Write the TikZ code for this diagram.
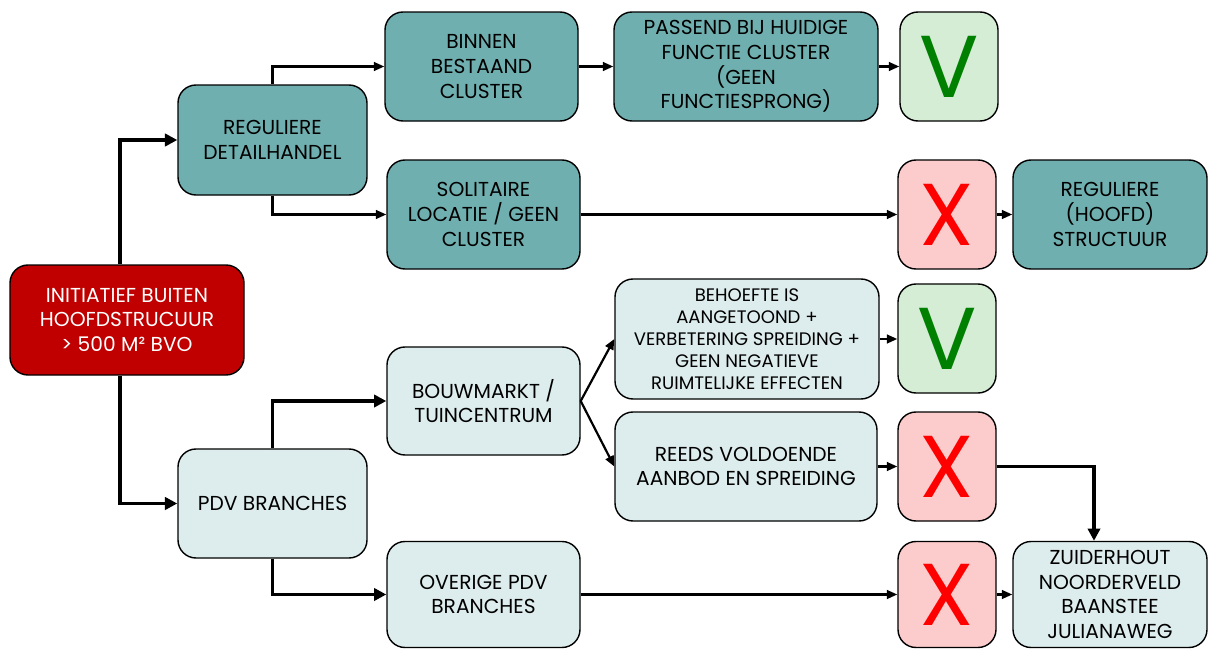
\documentclass[tikz,border=0pt]{standalone}
\usepackage{fontspec}
\setmainfont{Poppins}
\usetikzlibrary{arrows.meta}

\definecolor{tealbox}{HTML}{70AFAF}
\definecolor{lightbox}{HTML}{DDECEC}
\definecolor{redbox}{HTML}{C00000}
\definecolor{okbox}{HTML}{D5EDD5}
\definecolor{nobox}{HTML}{FCCCCC}
\definecolor{okmark}{HTML}{008000}

\tikzset{
	box/.style={draw=black, line width=0.8pt, rounded corners=0.36cm, align=center,
		inner sep=0pt, font=\fontsize{11.5}{14}\selectfont},
	wh/.style 2 args={minimum width=#1*0.02cm, minimum height=#2*0.02cm},
	teal/.style={box, fill=tealbox},
	light/.style={box, fill=lightbox},
	okmarkbox/.style={box, fill=okbox, text=okmark, font=\fontsize{50}{50}\selectfont, wh={98}{109}},
	nomarkbox/.style={box, fill=nobox, text=red, font=\fontsize{50}{50}\selectfont, wh={98}{109}},
	thinarrow/.style={-{Triangle[length=6pt,width=5pt]}, line width=1.25pt},
	thickarrow/.style={-{Triangle[length=7pt,width=7pt]}, line width=2pt},
}

\begin{document}
\begin{tikzpicture}[x=0.02cm, y=-0.02cm]
	\useasboundingbox (0,0) rectangle (1208,649);
	
	% start
	\node[box, fill=redbox, text=white, wh={234}{110}] (init) at (127,320)
	{INITIATIEF BUITEN\\HOOFDSTRUCUUR\\> 500 M² BVO};
	
	% regular retail
	\node[teal, wh={189}{110}] (regdet) at (272.5,140) {REGULIERE\\DETAILHANDEL};
	\node[teal, wh={193}{109}] (binnen) at (481.5,66.5) {BINNEN\\BESTAAND\\CLUSTER};
	\node[teal, wh={264}{109}] (passend) at (746,66.5)
	{PASSEND BIJ HUIDIGE\\FUNCTIE CLUSTER\\(GEEN\\FUNCTIESPRONG)};
	\node[okmarkbox] (v1) at (949,66.5) {V};
	\node[teal, wh={193}{109}] (solit) at (483.5,214.5) {SOLITAIRE\\LOCATIE / GEEN\\CLUSTER};
	\node[nomarkbox] (x1) at (947,214.5) {X};
	\node[teal, wh={194}{109}] (hoofd) at (1110,214.5) {REGULIERE\\(HOOFD)\\STRUCTUUR};
	
	% pdv
	\node[light, wh={189}{109}] (pdv) at (272.5,503.5) {PDV BRANCHES};
	\node[light, wh={193}{108}] (bouw) at (483.5,401) {BOUWMARKT /\\TUINCENTRUM};
	\node[light, wh={264}{120}, font=\fontsize{10.3}{12.5}\selectfont] (behoefte) at (747,339)
	{BEHOEFTE IS\\AANGETOOND +\\VERBETERING SPREIDING +\\GEEN NEGATIEVE\\RUIMTELIJKE EFFECTEN};
	\node[okmarkbox] (v2) at (947,338.5) {V};
	\node[light, wh={262}{109}] (reeds) at (746,466.5) {REEDS VOLDOENDE\\AANBOD EN SPREIDING};
	\node[nomarkbox] (x2) at (947,466.5) {X};
	\node[light, wh={193}{106}] (overige) at (483.5,594.5) {OVERIGE PDV\\BRANCHES};
	\node[nomarkbox, wh={98}{106}] (x3) at (947,594.5) {X};
	\node[light, wh={194}{106}] (zuider) at (1110,594.5)
	{ZUIDERHOUT\\NOORDERVELD\\BAANSTEE\\JULIANAWEG};
	
	% connectors
	\draw[thickarrow] ([xshift=-0.14cm]init.north) |- (regdet.west);
	\draw[thickarrow] ([xshift=-0.14cm]init.south) |- (pdv.west);
	\draw[thinarrow] (regdet.north) |- (binnen.west);
	\draw[thinarrow] (regdet.south) |- (solit.west);
	\draw[thinarrow] (binnen) -- (passend);
	\draw[thinarrow] (passend) -- (v1);
	\draw[thinarrow] (solit) -- (x1);
	\draw[thinarrow] (x1) -- (hoofd);
	\draw[thickarrow] (pdv.north) |- (bouw.west);
	\draw[thickarrow] (pdv.south) |- (overige.west);
	\draw[thinarrow] (bouw.east) -- (behoefte.west);
	\draw[thinarrow] (bouw.east) -- (reeds.west);
	\draw[thinarrow] (behoefte.east) -- (v2.west |- behoefte.east);
	\draw[thinarrow] (reeds) -- (x2);
	\draw[thickarrow] (x2.east) -| ([xshift=-0.32cm]zuider.north);
	\draw[thinarrow] (overige) -- (x3);
	\draw[thinarrow] (x3) -- (zuider);
\end{tikzpicture}
\end{document}
